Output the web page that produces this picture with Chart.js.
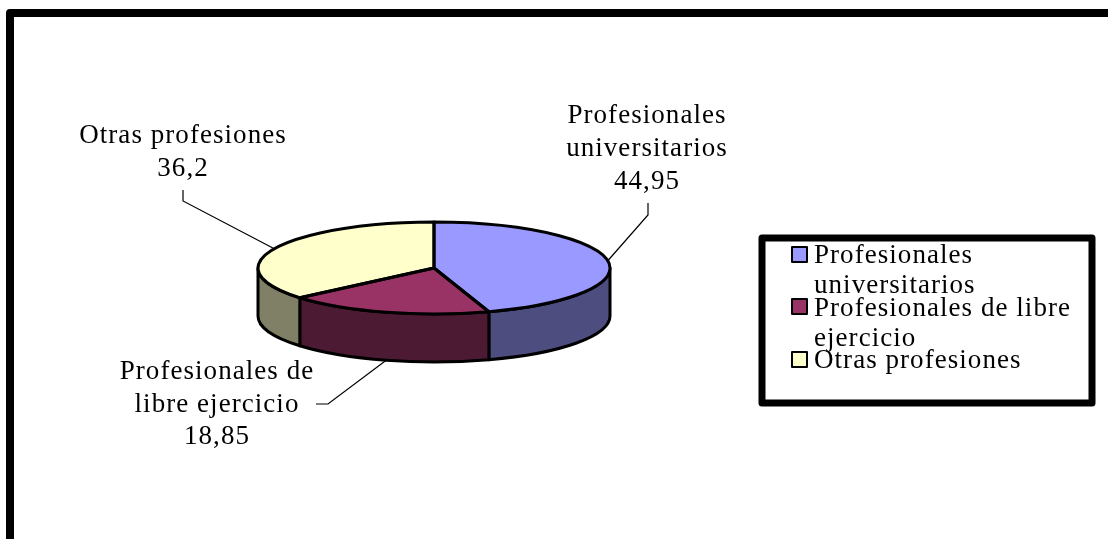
<!DOCTYPE html>
<html>
<head>
<meta charset="utf-8">
<script src="https://cdn.jsdelivr.net/npm/chart.js@4"></script>
<style>
  html, body { margin: 0; padding: 0; background: #fff; overflow: hidden; }
  canvas { display: block; }
</style>
</head>
<body>
<canvas id="chart" width="1108" height="539"></canvas>
<script>
// datos
var categories = ['Profesionales universitarios', 'Profesionales de libre ejercicio', 'Otras profesiones'];
var values = [44.95, 18.85, 36.2];
var valueLabels = ['44,95', '18,85', '36,2'];
var topColors = ['#9999FF', '#993366', '#FFFFCC'];
var wallColors = ['#4D4D80', '#4D1A33', '#808066'];

// etiquetas partidas en lineas como en el original
var labelLines = [
  ['Profesionales', 'universitarios'],
  ['Profesionales de', 'libre ejercicio'],
  ['Otras profesiones']
];
var legendLines = [
  ['Profesionales', 'universitarios'],
  ['Profesionales de libre', 'ejercicio'],
  ['Otras profesiones']
];

var FONT = '27px "Liberation Serif"';
var SPACING = '1.05px';
var SQUASH = 46 / 176;   // achatado de la elipse
var DEPTH = 48;          // alto de la pared

function squash(ctx, arc) {
  ctx.translate(0, arc.y);
  ctx.scale(1, SQUASH);
  ctx.translate(0, -arc.y);
}

// pared lateral de cada sector (solo la parte frontal)
function drawWalls(chart) {
  var ctx = chart.ctx;
  var arcs = chart.getDatasetMeta(0).data;
  arcs.forEach(function (arc, i) {
    var a0 = Math.max(arc.startAngle, 0);
    var a1 = Math.min(arc.endAngle, Math.PI);
    if (a1 <= a0) return;
    var rx = arc.outerRadius, ry = rx * SQUASH;
    ctx.save();
    ctx.beginPath();
    ctx.ellipse(arc.x, arc.y, rx, ry, 0, a0, a1);
    ctx.ellipse(arc.x, arc.y + DEPTH, rx, ry, 0, a1, a0, true);
    ctx.closePath();
    ctx.fillStyle = wallColors[i];
    ctx.fill();
    ctx.lineWidth = 3;
    ctx.lineJoin = 'round';
    ctx.strokeStyle = '#000';
    ctx.stroke();
    ctx.restore();
  });
}

// contorno de los sectores, con grosor uniforme
function drawOutlines(chart) {
  var ctx = chart.ctx;
  chart.getDatasetMeta(0).data.forEach(function (arc) {
    ctx.save();
    ctx.beginPath();
    ctx.moveTo(arc.x, arc.y);
    ctx.ellipse(arc.x, arc.y, arc.outerRadius, arc.outerRadius * SQUASH, 0, arc.startAngle, arc.endAngle);
    ctx.closePath();
    ctx.lineWidth = 3;
    ctx.lineJoin = 'round';
    ctx.strokeStyle = '#000';
    ctx.stroke();
    ctx.restore();
  });
}

function drawLines(ctx, lines, x, baselines, align) {
  ctx.font = FONT;
  ctx.letterSpacing = SPACING;
  ctx.fillStyle = '#000';
  ctx.textAlign = align;
  ctx.textBaseline = 'alphabetic';
  lines.forEach(function (t, i) { ctx.fillText(t, x, baselines[i]); });
}

// punto del borde del sector en su angulo medio
function anchor(arc, onWall) {
  var mid = (arc.startAngle + arc.endAngle) / 2;
  return {
    x: arc.x + arc.outerRadius * Math.cos(mid),
    y: arc.y + arc.outerRadius * SQUASH * Math.sin(mid) + (onWall ? DEPTH : 0)
  };
}

var labelLayout = [
  { x: 647, base: [123, 156, 189], elbow: [[648, 203], [648, 215]], wall: false },
  { x: 217, base: [379, 412, 444], elbow: [[316, 404], [328, 404]], wall: true },
  { x: 183, base: [143, 176], elbow: [[183, 190], [183, 201]], wall: false }
];

function drawLabels(chart) {
  var ctx = chart.ctx;
  var arcs = chart.getDatasetMeta(0).data;
  arcs.forEach(function (arc, i) {
    var l = labelLayout[i];
    var p = anchor(arc, l.wall);
    ctx.save();
    ctx.beginPath();
    ctx.moveTo(l.elbow[0][0], l.elbow[0][1]);
    ctx.lineTo(l.elbow[1][0], l.elbow[1][1]);
    ctx.lineTo(p.x, p.y);
    ctx.lineWidth = 1.2;
    ctx.strokeStyle = '#000';
    ctx.stroke();
    drawLines(ctx, labelLines[i].concat(valueLabels[i]), l.x, l.base, 'center');
    ctx.restore();
  });
}

var legendLayout = [
  { box: 247, base: [263, 293] },
  { box: 299, base: [316, 346] },
  { box: 352, base: [368] }
];

function drawLegend(chart) {
  var ctx = chart.ctx;
  ctx.save();
  ctx.fillStyle = '#fff';
  ctx.fillRect(762, 238, 330, 165);
  ctx.lineWidth = 7;
  ctx.lineJoin = 'round';
  ctx.strokeStyle = '#000';
  ctx.strokeRect(762, 238, 330, 165);
  categories.forEach(function (c, i) {
    var l = legendLayout[i];
    ctx.fillStyle = topColors[i];
    ctx.fillRect(792, l.box, 15, 15);
    ctx.lineWidth = 2;
    ctx.strokeStyle = '#000';
    ctx.strokeRect(792, l.box, 15, 15);
    drawLines(ctx, legendLines[i], 814, l.base, 'left');
  });
  ctx.restore();
}

var pie3d = {
  id: 'pie3d',
  beforeDraw: function (chart) {
    // marco exterior, se sale por la derecha y por abajo
    var ctx = chart.ctx;
    ctx.save();
    ctx.lineWidth = 8;
    ctx.lineJoin = 'round';
    ctx.strokeStyle = '#000';
    ctx.strokeRect(10, 13, 1200, 600);
    ctx.restore();
  },
  beforeDatasetDraw: function (chart) {
    drawWalls(chart);
    chart.ctx.save();
    squash(chart.ctx, chart.getDatasetMeta(0).data[0]);
  },
  afterDatasetDraw: function (chart) {
    chart.ctx.restore();
    drawOutlines(chart);
  },
  afterDraw: function (chart) {
    drawLabels(chart);
    drawLegend(chart);
  }
};

var chart = new Chart(document.getElementById('chart').getContext('2d'), {
  type: 'pie',
  data: {
    labels: categories,
    datasets: [{
      data: values,
      backgroundColor: topColors,
      borderWidth: 0
    }]
  },
  options: {
    responsive: false,
    animation: false,
    layout: { padding: { left: 258, right: 498, top: 92, bottom: 95 } },
    plugins: {
      legend: { display: false },
      tooltip: { enabled: false }
    }
  },
  plugins: [pie3d]
});
</script>
</body>
</html>
